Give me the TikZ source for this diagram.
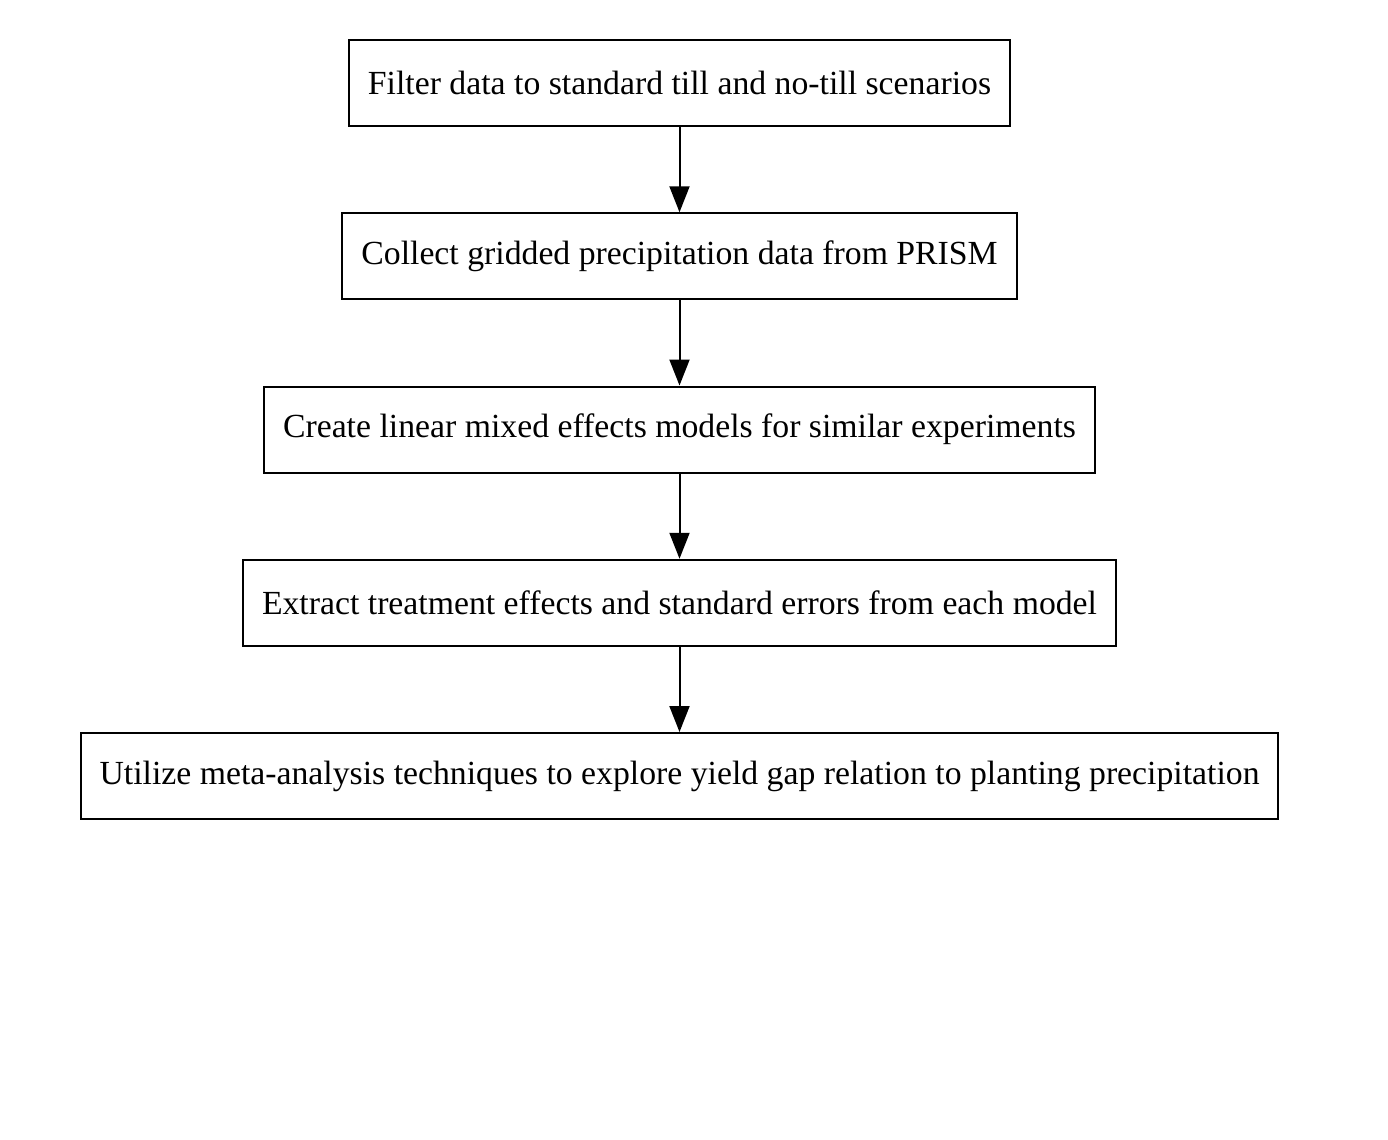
\documentclass[tikz,border=0pt]{standalone}
\usepackage{fontspec}
\setmainfont{Liberation Serif}
\usetikzlibrary{arrows.meta,positioning}

\begin{document}
\begin{tikzpicture}[->,>={Triangle[length=0.52cm,width=0.4cm]},line width=0.04cm,node distance=1.705cm]
	\tikzstyle{stepbox}=[draw,rectangle,minimum height=1.72cm,inner xsep=0.38cm,font=\fontsize{19.2}{23}\selectfont]
	\useasboundingbox (0,0) rectangle (27.76,-22.8);

	\node[stepbox] (filter) at (13.59,-1.66) {Filter data to standard till and no-till scenarios};
	\node[stepbox] (collect) [below = of filter] {Collect gridded precipitation data from PRISM};
	\node[stepbox] (create) [below = of collect] {Create linear mixed effects models for similar experiments};
	\node[stepbox] (extract) [below = of create] {Extract treatment effects and standard errors from each model};
	\node[stepbox] (utilize) [below = of extract] {Utilize meta-analysis techniques to explore yield gap relation to planting precipitation};

	\path (filter) edge (collect);
	\path (collect) edge (create);
	\path (create) edge (extract);
	\path (extract) edge (utilize);
\end{tikzpicture}
\end{document}
